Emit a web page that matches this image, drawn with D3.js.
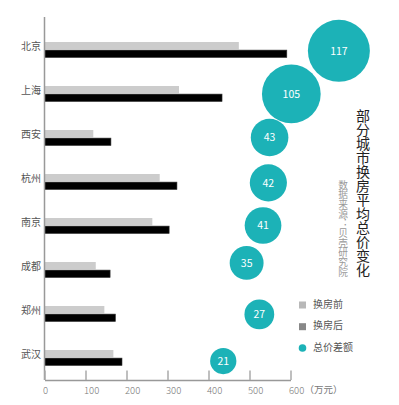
<!DOCTYPE html>
<html><head><meta charset="utf-8">
<script src="https://cdn.jsdelivr.net/npm/d3@7"></script>
<style>
html,body{margin:0;padding:0;background:#fff;}
svg{display:block;font-family:"Noto Sans CJK SC","Noto Sans",sans-serif;}
</style></head>
<body>
<svg id="chart" width="399" height="405"></svg>
<script>
const cities = ["北京","上海","西安","杭州","南京","成都","郑州","武汉"];
const before = [474, 328, 119, 281, 263, 125, 146, 168];
const after  = [591, 433, 162, 323, 304, 160, 173, 189];
const diff   = [117, 105, 43, 42, 41, 35, 27, 21];
// bubble placement in data units (x on the value axis, y as row index)
const bubbleXVal = [718, 602, 549, 546, 533, 493, 524, 436];
const bubbleRow  = [0.03, 1.01, 2, 3.03, 4, 4.85, 6.02, 7.08];
const xTicks = [0, 100, 200, 300, 400, 500, 600];
const unitLabel = "（万元）";
const title = "部分城市换房平均总价变化";
const source = "数据来源：贝壳研究院";
const legendLabels = ["换房前", "换房后", "总价差额"];

const svg = d3.select("#chart");
const x = d3.scaleLinear().domain([0, 600]).range([44.5, 290.5]);
const y = d3.scaleBand().domain(cities).range([27.5, 379.5]);
const row = d3.scaleLinear().domain([0, 7]).range([y(cities[0]) + y.bandwidth()/2, y(cities[7]) + y.bandwidth()/2]);
const r = d3.scaleSqrt().domain([0, 117]).range([0, 31]);
const teal = "#1cb2b7";

const data = cities.map((c, i) => ({c, b: before[i], a: after[i], d: diff[i], bx: bubbleXVal[i], br: bubbleRow[i]}));
const cy = d => y(d.c) + y.bandwidth()/2;

// bars
svg.append("g").selectAll("rect").data(data).join("rect")
  .attr("x", x(0)).attr("y", d => cy(d) - 7.5)
  .attr("width", d => x(d.b) - x(0)).attr("height", 7.3)
  .attr("fill", "#cccccc");
svg.append("g").selectAll("rect").data(data).join("rect")
  .attr("x", x(0)).attr("y", d => cy(d) + 0.6)
  .attr("width", d => x(d.a) - x(0)).attr("height", 7.4)
  .attr("fill", "#000").attr("stroke", "#333").attr("stroke-width", 0.6);

// y axis
svg.append("line").attr("x1", 44.5).attr("x2", 44.5).attr("y1", 17).attr("y2", 380)
  .attr("stroke", "#999").attr("stroke-width", 1.5);
svg.append("g").selectAll("text").data(data).join("text")
  .attr("x", 41).attr("y", d => cy(d) - 2.5)
  .attr("text-anchor", "end").attr("dominant-baseline", "middle")
  .attr("font-size", 10).attr("fill", "#555").text(d => d.c);

// x axis
const xAxis = svg.append("g").attr("transform", "translate(0,380)")
  .call(d3.axisBottom(x).tickValues(xTicks).tickSizeInner(-9.5).tickSizeOuter(0).tickFormat(d3.format("d")));
xAxis.select(".domain").attr("stroke", "#999").attr("stroke-width", 1.5);
xAxis.selectAll(".tick line").attr("stroke", "#aaa").attr("stroke-width", 1.5);
xAxis.selectAll(".tick text").attr("y", 10.5).attr("dy", "0.35em").attr("x", -2)
  .attr("text-anchor", "start").attr("font-size", 9.5).attr("fill", "#777")
  .attr("font-family", "'Noto Sans CJK SC','Noto Sans',sans-serif").attr("font-weight", 300);
svg.append("text").attr("x", x(600) + 14).attr("y", 390.5).attr("dominant-baseline", "middle")
  .attr("font-size", 9.5).attr("fill", "#777").text(unitLabel);

// bubbles
const bg = svg.append("g").selectAll("g").data(data).join("g")
  .attr("transform", d => `translate(${x(d.bx)},${row(d.br)})`);
bg.append("circle").attr("r", d => r(d.d)).attr("fill", teal);
bg.append("text").attr("text-anchor", "middle").attr("dy", "0.35em")
  .attr("font-size", 10.5).attr("fill", "#fff").text(d => d.d);

// title (vertical)
svg.append("text").attr("x", 363).attr("y", 277)
  .style("writing-mode", "vertical-rl").style("text-orientation", "upright")
  .attr("text-anchor", "end").attr("font-size", 14).attr("fill", "#222").text(title);
svg.append("text").attr("x", 343).attr("y", 277)
  .style("writing-mode", "vertical-rl").style("text-orientation", "upright")
  .attr("text-anchor", "end").attr("font-size", 9.7).attr("fill", "#999").text(source);

// legend
const lg = svg.append("g");
const legendColors = ["#b8b8b8", "#888888", teal];
const legendY = [305, 326.7, 348];
legendLabels.forEach((t, i) => {
  if (i < 2) lg.append("rect").attr("x", 299).attr("y", legendY[i] - 3.5).attr("width", 7).attr("height", 7).attr("fill", legendColors[i]);
  else lg.append("circle").attr("cx", 302.5).attr("cy", legendY[i]).attr("r", 3.8).attr("fill", legendColors[i]);
  lg.append("text").attr("x", 313).attr("y", legendY[i]).attr("dominant-baseline", "middle")
    .attr("font-size", 10).attr("fill", "#555").text(t);
});
</script>
</body></html>
